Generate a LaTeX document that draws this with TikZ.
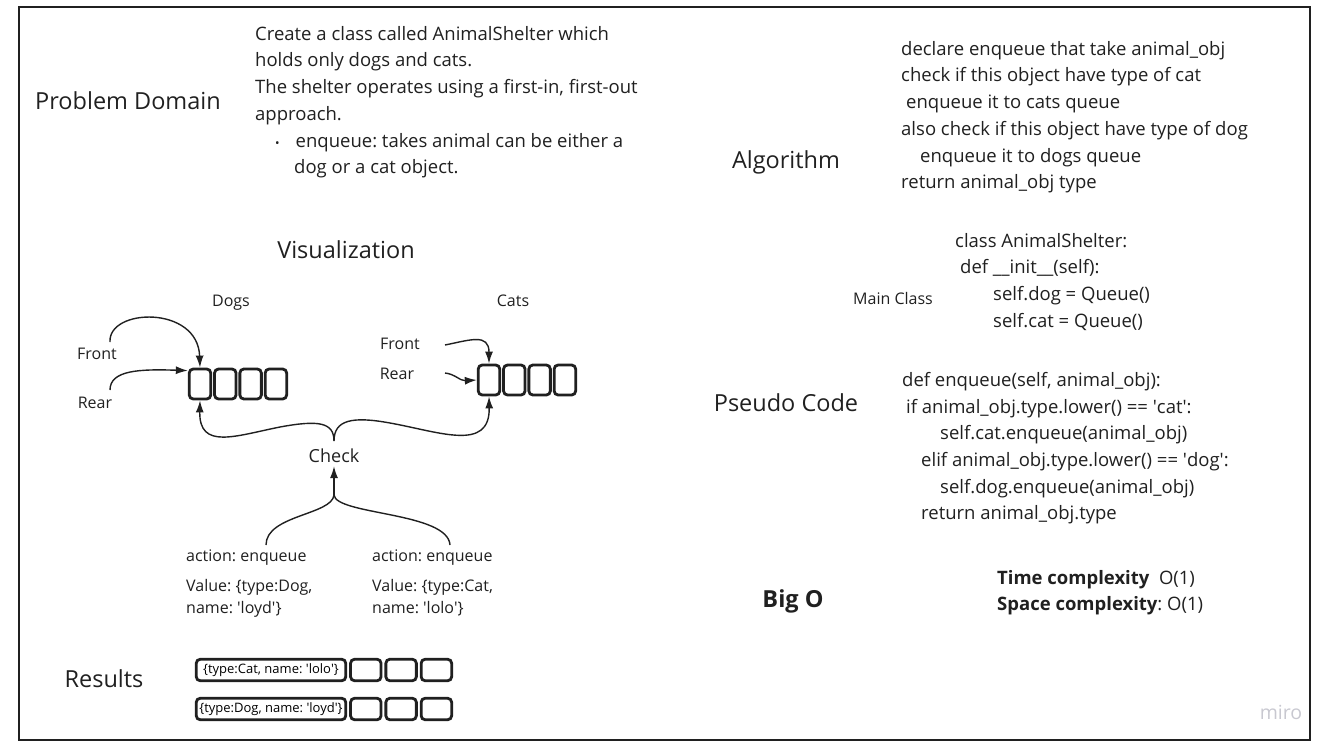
\documentclass[tikz,border=0pt]{standalone}
\usepackage{fontspec}
\setmainfont{Open Sans}
\usetikzlibrary{arrows.meta,positioning}
\definecolor{ink}{RGB}{32,32,32}
\definecolor{mirogray}{RGB}{200,200,208}
\frenchspacing

\begin{document}
\begin{tikzpicture}[x=1pt,y=-1pt]
\tikzstyle{head} = [font=\fontsize{23.5}{28}\selectfont, text=ink, inner sep=0pt]
\tikzstyle{body} = [font=\fontsize{18.5}{26.7}\selectfont, text=ink, align=left, anchor=north west, inner sep=0pt]
\tikzstyle{lbl} = [font=\fontsize{16}{22}\selectfont, text=ink, inner sep=0pt]
\tikzstyle{qbox} = [draw=ink, line width=2.8pt, rounded corners=4pt, minimum width=21.5pt, minimum height=30pt, inner sep=0pt]
\tikzstyle{rbox} = [qbox, minimum width=30.5pt, minimum height=21.5pt, font=\fontsize{13}{13}\selectfont]
\tikzstyle{arr} = [-{Latex[length=12pt,width=8pt]}, line width=1.4pt, draw=ink]
\useasboundingbox (0,0) rectangle (1333,750);
\draw[line width=2.5pt, draw=ink] (19,7) rectangle (1310,740);

% headings
\node[head] (pd) at (128,101) {Problem Domain};
\node[head] (alg) at (786,162) {Algorithm};
\node[head] (vis) at (346,250) {Visualization};
\node[head] (pc) at (786,403) {Pseudo Code};
\node[head] (res) at (104,679) {Results};
\node[head, font=\fontsize{23.5}{28}\selectfont\bfseries] (bigo) at (793,601) {Big O};

% text blocks
\node[body] (pdtext) at (255,26) {Create a class called AnimalShelter which\\
holds only dogs and cats.\\
The shelter operates using a first-in, first-out\\
approach.\\
\hspace*{20pt}{\fontsize{12}{12}\selectfont •}\hspace*{16pt}enqueue: takes animal can be either a\\
\hspace*{39pt}dog or a cat object.};
\node[body] (algtext) at (901,41) {declare enqueue that take animal\_obj\\
check if this object have type of cat\\
\hspace*{5pt}enqueue it to cats queue\\
also check if this object have type of dog\\
\hspace*{19pt}enqueue it to dogs queue\\
return animal\_obj type};
\node[lbl] (mc) at (893,298) {Main Class};
\node[body] (mctext) at (955,233) {class AnimalShelter:\\
\hspace*{5pt}def \_\_init\_\_(self):\\
\hspace*{38pt}self.dog = Queue()\\
\hspace*{38pt}self.cat = Queue()};
\node[body] (pctext) at (902,372) {def enqueue(self, animal\_obj):\\
\hspace*{4pt}if animal\_obj.type.lower() == \textquotesingle cat\textquotesingle:\\
\hspace*{38pt}self.cat.enqueue(animal\_obj)\\
\hspace*{19pt}elif animal\_obj.type.lower() == \textquotesingle dog\textquotesingle:\\
\hspace*{38pt}self.dog.enqueue(animal\_obj)\\
\hspace*{19pt}return animal\_obj.type};
\node[body, anchor=west] (tc) at (997,580) {\textbf{Time complexity}~ O(1)};
\node[body, anchor=west] (sc) at (997,606) {\textbf{Space complexity}: O(1)};
\node[font=\fontsize{19.5}{20}\selectfont, text=mirogray, inner sep=0pt] (miro) at (1281,712) {miro};

% queues
\node[lbl] (dogs) at (231,303) {Dogs};
\node[lbl] (cats) at (513,301) {Cats};
\node[qbox] (dq1) at (200,384) {};
\node[qbox, right=1pt of dq1] (dq2) {};
\node[qbox, right=1pt of dq2] (dq3) {};
\node[qbox, right=1pt of dq3] (dq4) {};
\node[qbox] (cq1) at (489,380) {};
\node[qbox, right=1pt of cq1] (cq2) {};
\node[qbox, right=1pt of cq2] (cq3) {};
\node[qbox, right=1pt of cq3] (cq4) {};
\node[lbl] (dfront) at (97,354) {Front};
\node[lbl] (drear) at (95,403) {Rear};
\node[lbl] (cfront) at (400,344) {Front};
\node[lbl] (crear) at (397,374) {Rear};
\coordinate (dfs) at (110,342);
\coordinate (drs) at (110,390);
\coordinate (cfs) at (445,345);
\coordinate (crs) at (445,373);
\draw[arr] (dfs) .. controls (108,308) and (198,305) .. (dq1.north);
\draw[arr] (drs) .. controls (110,370) and (140,369) .. ([yshift=-3pt]dq1.north west);
\draw[arr] (cfs) .. controls (470,340) and (489,333) .. (cq1.north);
\draw[arr] (crs) .. controls (455,374) and (460,381) .. (cq1.west);

% check
\node[lbl, font=\fontsize{18}{22}\selectfont, inner sep=3pt] (check) at (334,456) {Check};
\coordinate (jup) at (334,441);
\coordinate (jdn) at (334,495);
\draw[arr] (jup) .. controls (334,422) and (318,420) .. (280,427) .. controls (235,436) and (199,450) .. (dq1.south);
\draw[arr] (jup) .. controls (334,420) and (352,416) .. (390,423) .. controls (440,432) and (490,452) .. (cq1.south);
\draw[arr] (jdn) -- (check.south);
\coordinate (actl) at (266,545);
\coordinate (actr) at (450,545);
\draw[line width=1.4pt, draw=ink] (jdn) .. controls (332,515) and (266,515) .. (actl);
\draw[line width=1.4pt, draw=ink] (jdn) .. controls (336,515) and (448,512) .. (actr);
\node[lbl, anchor=west] (act1) at (186,558) {action: enqueue};
\node[lbl, anchor=west] (act2) at (372,558) {action: enqueue};
\node[lbl, align=left, anchor=north west] (val1) at (186,579) {Value: \{type:Dog,\\ name: \textquotesingle loyd\textquotesingle\}};
\node[lbl, align=left, anchor=north west] (val2) at (372,579) {Value: \{type:Cat,\\ name: \textquotesingle lolo\textquotesingle\}};

% results
\node[rbox, minimum width=149.5pt] (rc0) at (271,670) {\{type:Cat, name: \textquotesingle lolo\textquotesingle\}};
\node[rbox, right=2pt of rc0] (rc1) {};
\node[rbox, right=2pt of rc1] (rc2) {};
\node[rbox, right=2pt of rc2] (rc3) {};
\node[rbox, minimum width=149.5pt] (rd0) at (271,709) {\{type:Dog, name: \textquotesingle loyd\textquotesingle\}};
\node[rbox, right=2pt of rd0] (rd1) {};
\node[rbox, right=2pt of rd1] (rd2) {};
\node[rbox, right=2pt of rd2] (rd3) {};
\end{tikzpicture}
\end{document}
